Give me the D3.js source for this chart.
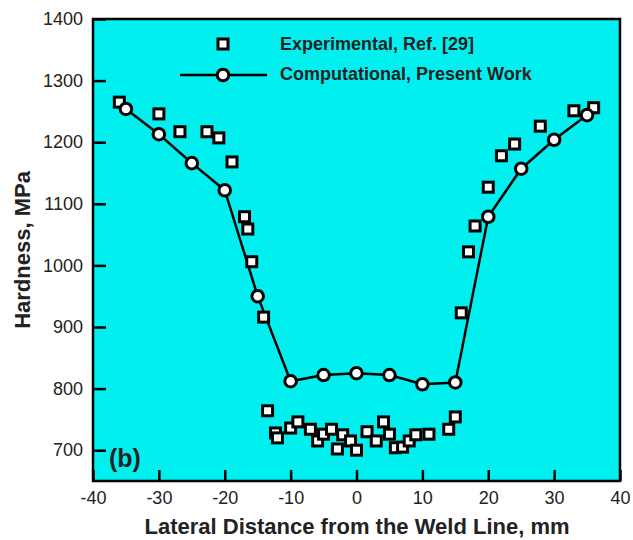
<!DOCTYPE html>
<html>
<head>
<meta charset="utf-8">
<script src="https://cdn.jsdelivr.net/npm/d3@7"></script>
<style>
body { margin: 0; background: #fff; }
text { font-family: "Liberation Sans", Arial, sans-serif; }
</style>
</head>
<body>
<svg width="633" height="540"></svg>
<script>
// experimental points, Ref. [29]
var expX = [-36, -30, -26.8, -22.7, -20.9, -18.9, -17, -16.5, -15.9, -14.1, -13.5,
    -12.3, -12, -10, -8.9, -7, -5.9, -5, -3.8, -2.9, -2.1, -0.9, 0, 1.6, 3, 4.1, 5, 5.9, 7, 8, 9, 11, 14, 15,
    15.9, 17, 18, 20, 22, 24, 27.9, 33, 36];
var expY = [1265, 1246, 1217, 1217, 1207, 1168, 1079, 1059, 1006, 916, 764,
    728, 720, 736, 746, 734, 715, 726, 734, 702, 725, 715, 700, 730, 715, 746, 726, 704, 705, 715, 725, 726, 734, 754,
    923, 1022, 1064, 1127, 1178, 1197, 1226, 1251, 1256];

// computational, present work
var compX = [-35, -30, -25, -20, -15, -10, -5, 0, 5, 10, 15, 20, 25, 30, 35];
var compY = [1254, 1213, 1166, 1122, 950, 812, 822, 825, 822, 807, 810, 1079, 1157, 1204, 1244];

var xTicks = [-40, -30, -20, -10, 0, 10, 20, 30, 40];
var yTicks = [700, 800, 900, 1000, 1100, 1200, 1300, 1400];

var svg = d3.select('svg');
var fontFam = '"Liberation Sans", Arial, sans-serif';

var xScale = d3.scaleLinear().domain([-40, 40]).range([93, 620]);
var yScale = d3.scaleLinear().domain([650, 1400]).range([481, 19]);

svg.append('rect')
    .attr('x', 93).attr('y', 19)
    .attr('width', 527).attr('height', 462)
    .attr('fill', '#00f0f0');

// axes, ticks inside
svg.append('g').attr('class', 'x axis')
    .attr('transform', 'translate(0,481)')
    .call(d3.axisBottom(xScale).tickValues(xTicks).tickFormat(d => String(d))
        .tickSizeInner(-11).tickSizeOuter(0).tickPadding(10))
    .call(g => g.select('.domain').remove())
    .call(g => g.selectAll('line').attr('stroke-width', 2.5))
    .call(g => g.selectAll('text').attr('font-size', 18).attr('fill', '#222').attr('font-family', fontFam));

svg.append('g').attr('class', 'y axis')
    .attr('transform', 'translate(93,0)')
    .call(d3.axisLeft(yScale).tickValues(yTicks).tickFormat(d => String(d))
        .tickSizeInner(-13).tickSizeOuter(0).tickPadding(10))
    .call(g => g.select('.domain').remove())
    .call(g => g.selectAll('line').attr('stroke-width', 2.5))
    .call(g => g.selectAll('text').attr('font-size', 18).attr('fill', '#222').attr('font-family', fontFam));

svg.append('rect')
    .attr('x', 93).attr('y', 19)
    .attr('width', 527).attr('height', 462)
    .attr('fill', 'none').attr('stroke', '#000').attr('stroke-width', 2.5);

// computational line
var line = d3.line().x((d, i) => xScale(compX[i])).y((d, i) => yScale(compY[i]));
svg.append('path')
    .datum(compY)
    .attr('d', line)
    .attr('fill', 'none')
    .attr('stroke', '#000')
    .attr('stroke-width', 2.5);

// experimental squares
svg.selectAll('rect.exp')
    .data(expY)
    .enter()
    .append('rect')
    .attr('class', 'exp')
    .attr('x', (d, i) => xScale(expX[i]) - 5)
    .attr('y', d => yScale(d) - 5)
    .attr('width', 10).attr('height', 10)
    .attr('fill', '#fff').attr('stroke', '#000').attr('stroke-width', 3);

svg.selectAll('circle.comp')
    .data(compY)
    .enter()
    .append('circle')
    .attr('class', 'comp')
    .attr('cx', (d, i) => xScale(compX[i]))
    .attr('cy', d => yScale(d))
    .attr('r', 5.8)
    .attr('fill', '#fff').attr('stroke', '#000').attr('stroke-width', 3);

// legend
svg.append('rect')
    .attr('x', 218).attr('y', 39).attr('width', 10).attr('height', 10)
    .attr('fill', '#fff').attr('stroke', '#000').attr('stroke-width', 3);
svg.append('line')
    .attr('x1', 180).attr('x2', 267).attr('y1', 75).attr('y2', 75)
    .attr('stroke', '#000').attr('stroke-width', 2.5);
svg.append('circle')
    .attr('cx', 223).attr('cy', 75).attr('r', 5.8)
    .attr('fill', '#fff').attr('stroke', '#000').attr('stroke-width', 3);
svg.append('text')
    .attr('x', 280).attr('y', 50)
    .attr('font-size', 18).attr('font-weight', 'bold').attr('fill', '#222')
    .text('Experimental, Ref. [29]');
svg.append('text')
    .attr('x', 280).attr('y', 80)
    .attr('font-size', 18).attr('font-weight', 'bold').attr('fill', '#222')
    .text('Computational, Present Work');

svg.append('text')
    .attr('x', 109).attr('y', 467)
    .attr('font-size', 25).attr('font-weight', 'bold').attr('fill', '#222')
    .text('(b)');

svg.append('text')
    .attr('x', 357).attr('y', 534)
    .attr('text-anchor', 'middle')
    .attr('font-size', 22).attr('font-weight', 'bold').attr('fill', '#222')
    .text('Lateral Distance from the Weld Line, mm');

svg.append('text')
    .attr('transform', 'translate(30,250) rotate(-90)')
    .attr('text-anchor', 'middle')
    .attr('font-size', 22).attr('font-weight', 'bold').attr('fill', '#222')
    .text('Hardness, MPa');
</script>
</body>
</html>
